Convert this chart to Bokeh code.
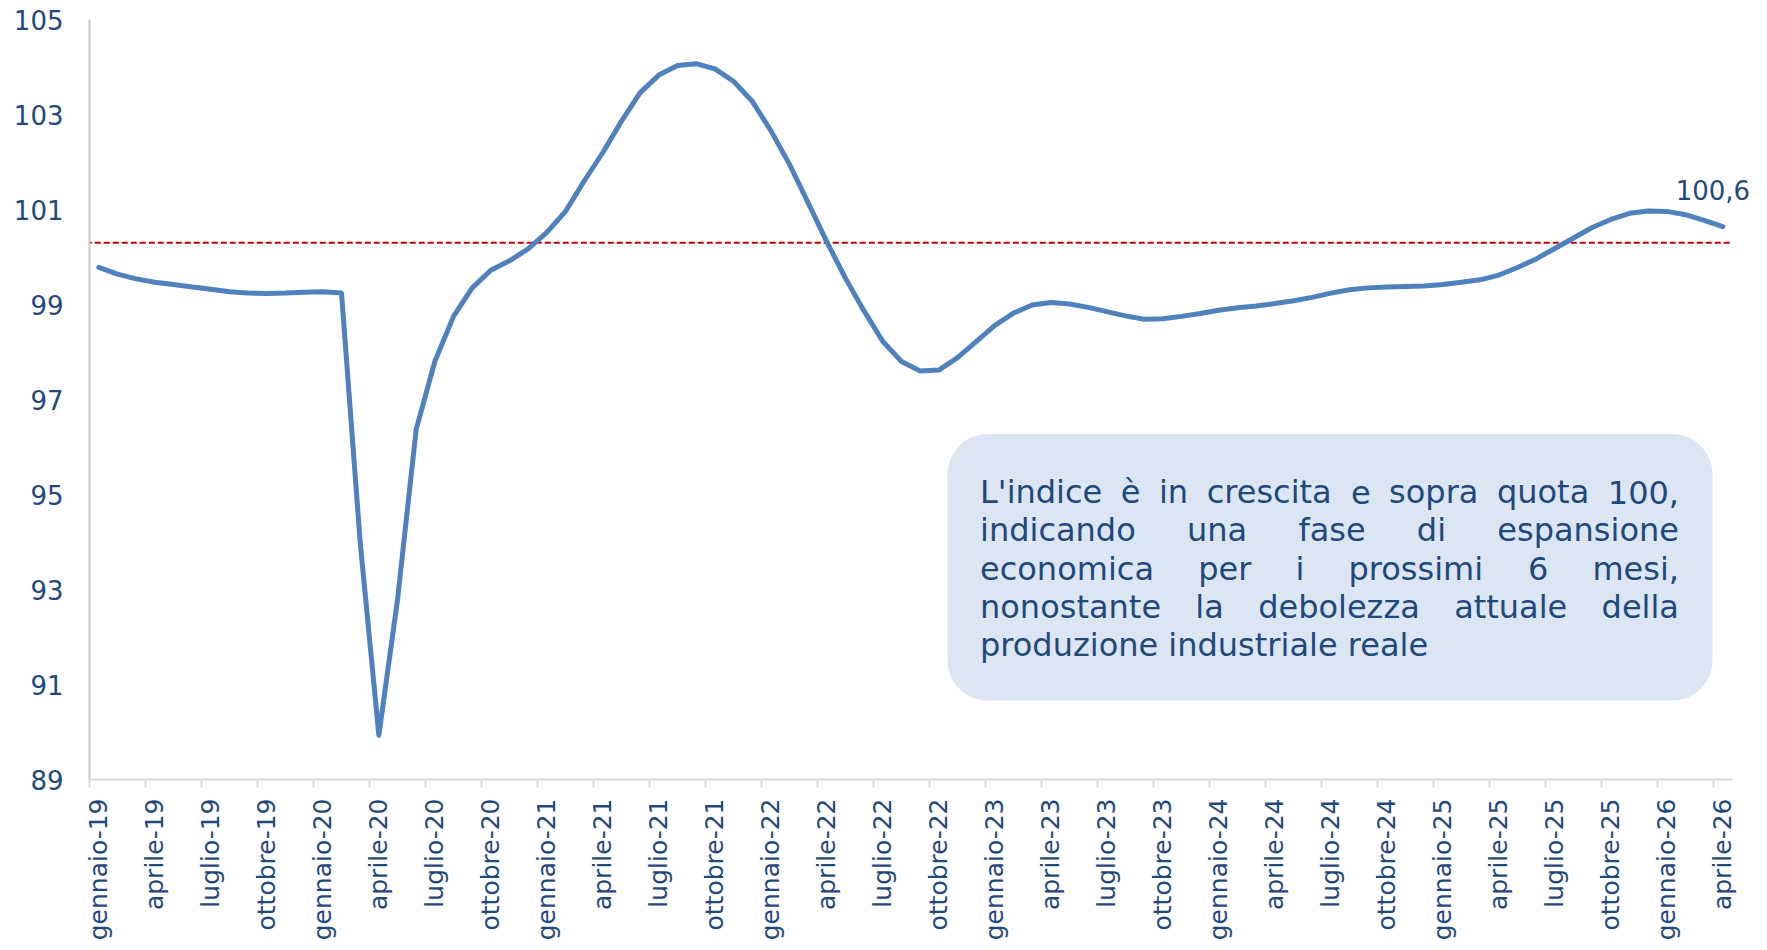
import math
import numpy as np
from bokeh.plotting import figure
from bokeh.models import FixedTicker, BoxAnnotation, ColumnDataSource, Range1d, Label
from bokeh.embed import file_html
from bokeh.resources import INLINE
from bokeh.core.properties import value

# ---------------- data ----------------
mesi = ["gennaio", "febbraio", "marzo", "aprile", "maggio", "giugno",
        "luglio", "agosto", "settembre", "ottobre", "novembre", "dicembre"]
anni = ["19", "20", "21", "22", "23", "24", "25", "26"]
periodi = [f"{m}-{a}" for a in anni for m in mesi][:88]

indice = [
    99.78, 99.64, 99.54, 99.47, 99.42, 99.37, 99.32, 99.27, 99.24, 99.23, 99.24, 99.26,   # 2019
    99.27, 99.24, 94.00, 89.93, 92.78, 96.37, 97.80, 98.75, 99.35, 99.72, 99.92, 100.17,  # 2020
    100.52, 100.96, 101.60, 102.20, 102.86, 103.46, 103.83, 104.03, 104.07, 103.96, 103.70, 103.28,  # 2021
    102.66, 101.95, 101.14, 100.32, 99.55, 98.86, 98.22, 97.80, 97.60, 97.62, 97.88, 98.22,  # 2022
    98.56, 98.82, 98.99, 99.04, 99.01, 98.94, 98.85, 98.76, 98.69, 98.70, 98.75, 98.81,   # 2023
    98.88, 98.93, 98.97, 99.02, 99.08, 99.15, 99.24, 99.31, 99.35, 99.37, 99.38, 99.39,   # 2024
    99.42, 99.47, 99.52, 99.62, 99.78, 99.96, 100.18, 100.40, 100.62, 100.79, 100.92, 100.97,  # 2025
    100.96, 100.89, 100.77, 100.64,                                                       # 2026
]
soglia = 100.3
y_ticks = [89, 91, 93, 95, 97, 99, 101, 103, 105]
passo_etichette = 3
testo_box = [
    "L'indice è in crescita e sopra quota 100,",
    "indicando una fase di espansione",
    "economica per i prossimi 6 mesi,",
    "nonostante la debolezza attuale della",
    "produzione industriale reale",
]

# ---------------- style / layout ----------------
BLU_TESTO = "#1F497D"
BLU_LINEA = "#4F81BD"
FONT = "DejaVu Sans"

W, H = 1767, 950
BL, BR, BT, BB = 89, 8, 19, 171          # frame extended to the right so the end label is not clipped
FW, FH = W - BL - BR, H - BT - BB
PX_MESE = 18.667                           # pixel width of one month
n = len(indice)
x = np.arange(n)
X0 = -0.5
X_END = n - 0.5                            # end of the category axis
X1 = X0 + FW / PX_MESE
Y0, Y1 = 89, 105

p = figure(width=W, height=H, output_backend="svg", toolbar_location=None,
           x_range=Range1d(X0, X1), y_range=Range1d(Y0, Y1),
           min_border_left=BL, min_border_right=BR, min_border_top=BT, min_border_bottom=BB)
p.outline_line_color = None
p.xgrid.visible = False
p.ygrid.visible = False
p.background_fill_color = "white"
p.border_fill_color = "white"

# page-pixel -> data helpers (frame top-left at (BL, BT))
def px_x(px):
    return X0 + (px - BL) / PX_MESE

def px_y(py):
    return Y1 - (py - BT) * (Y1 - Y0) / FH

# x axis
tick_pos = list(range(0, n, passo_etichette))
xa = p.xaxis[0]
xa.bounds = (X0, X_END)
xa.ticker = FixedTicker(ticks=tick_pos, minor_ticks=[t - 0.5 for t in tick_pos])
xa.major_label_overrides = {t: periodi[t] for t in tick_pos}
xa.major_label_orientation = math.pi / 2
xa.major_tick_out = 0
xa.major_tick_in = 0
xa.minor_tick_out = 8
xa.minor_tick_in = 0
xa.minor_tick_line_color = "#D9D9D9"
xa.minor_tick_line_width = 2
xa.axis_line_color = "#D9D9D9"
xa.axis_line_width = 2
xa.major_label_standoff = 11
xa.major_label_text_font = FONT
xa.major_label_text_font_size = "25px"
xa.major_label_text_color = BLU_TESTO

# y axis
ya = p.yaxis[0]
ya.ticker = FixedTicker(ticks=y_ticks)
ya.major_tick_out = 0
ya.major_tick_in = 0
ya.minor_tick_line_color = None
ya.axis_line_color = "#C8C8C8"
ya.axis_line_width = 2
ya.major_label_standoff = 26
ya.major_label_text_font = FONT
ya.major_label_text_font_size = "26px"
ya.major_label_text_color = BLU_TESTO

# threshold (dashed red, across the category axis)
p.segment(x0=[X0 - 0.2], x1=[X_END], y0=[soglia], y1=[soglia],
          line_color="#C00000", line_width=2, line_dash="6 3")

# series
p.line(x, indice, line_color=BLU_LINEA, line_width=5, line_join="round", line_cap="round")

# last value label
ultimo = f"{indice[-1]:.1f}".replace(".", ",")
p.add_layout(Label(x=float(x[-1]), y=indice[-1], text=ultimo, x_offset=-10, y_offset=37,
                   text_align="center", text_baseline="middle", text_font=FONT,
                   text_font_size="26px", text_color=BLU_TESTO))

# annotation box
box = BoxAnnotation(left=px_x(947), right=px_x(1712), top=px_y(433.5), bottom=px_y(700),
                    fill_color="#DCE6F2", fill_alpha=1.0, line_color=None,
                    border_radius=40, level="underlay")
p.add_layout(box)

# justified paragraph (DejaVu Sans advance widths, 1/1000 em)
ADV = {' ': 318, "'": 275, ',': 318, '0': 636, '1': 636, '6': 636,
       'a': 613, 'b': 635, 'c': 550, 'd': 635, 'e': 615, 'f': 352, 'g': 635, 'h': 634,
       'i': 278, 'l': 278, 'm': 974, 'n': 634, 'o': 612, 'p': 635, 'q': 635, 'r': 411,
       's': 521, 't': 392, 'u': 634, 'v': 592, 'z': 525, 'L': 557, 'è': 615}
FS = 32
def wlen(s):
    return sum(ADV.get(c, 600) for c in s) * FS / 1000.0

TX_L, TX_R = 979.5, 1678.5
BASE0, LEAD = 491.5, 38.3
wx, wy, wt = [], [], []
for k, riga in enumerate(testo_box):
    by = px_y(BASE0 + k * LEAD)
    if k == len(testo_box) - 1:
        wx.append(px_x(TX_L)); wy.append(by); wt.append(riga)
        continue
    parole = riga.split(" ")
    tot = sum(wlen(w) for w in parole)
    gap = (TX_R - TX_L - tot) / (len(parole) - 1)
    cx = TX_L
    for w in parole:
        wx.append(px_x(cx)); wy.append(by); wt.append(w)
        cx += wlen(w) + gap

src = ColumnDataSource(dict(x=wx, y=wy, t=wt))
p.text(x="x", y="y", text="t", source=src, text_align="left", text_baseline="alphabetic",
       text_font=value(FONT), text_font_size=f"{FS}px", text_color=BLU_TESTO)

open("out.html", "w").write(file_html(p, INLINE))
